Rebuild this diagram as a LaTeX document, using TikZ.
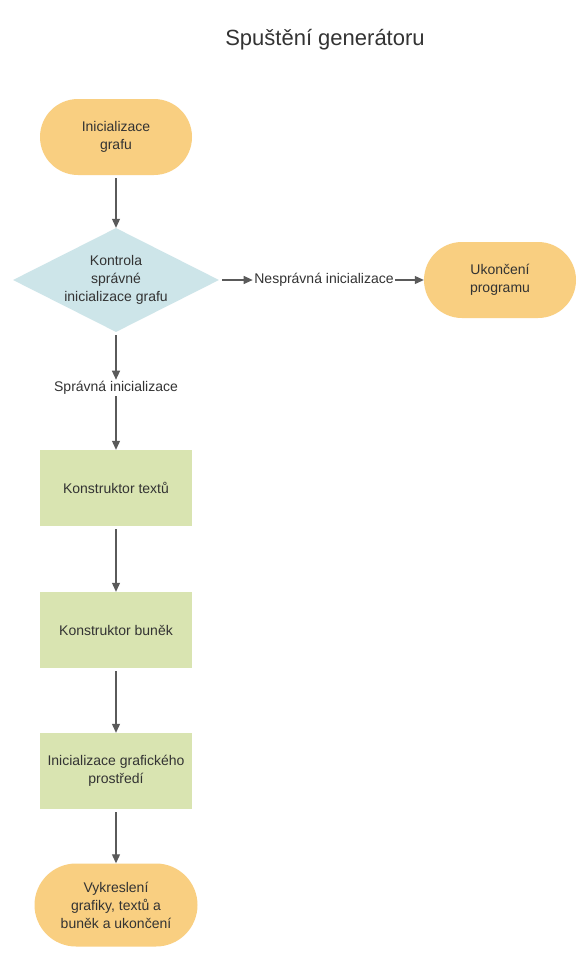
\documentclass[tikz,border=0pt]{standalone}
\usepackage{fontspec}
\setmainfont{Liberation Sans}
\usetikzlibrary{arrows.meta,shapes.geometric}
\definecolor{orangefill}{HTML}{F9CF81}
\definecolor{bluefill}{HTML}{CDE5E9}
\definecolor{greenfill}{HTML}{D9E4B1}
\definecolor{txt}{HTML}{333333}
\definecolor{arr}{HTML}{5A5A5A}
\tikzset{
  base/.style={font=\fontsize{14}{18}\selectfont, text=txt, align=center},
  term/.style={base, fill=orangefill, rounded corners=38pt, minimum width=152pt, minimum height=76pt, inner sep=0pt},
  procbox/.style={base, fill=greenfill, minimum width=152pt, minimum height=76pt, inner sep=0pt},
  decision/.style={shape=diamond, fill=bluefill, minimum width=206pt, minimum height=104pt, inner sep=0pt},
  lbl/.style={base, fill=white, inner sep=1.5pt},
  conn/.style={draw=arr, line width=1.1pt, -{Triangle[length=9pt,width=8pt]}, shorten <=3pt},
}
\begin{document}
\begin{tikzpicture}[x=1pt,y=-1pt]
\useasboundingbox[fill=white] (0,0) rectangle (587,958);
\node[base, font=\fontsize{22}{26}\selectfont] (title) at (325,40) {Spuštění generátoru};
\node[term] (start) at (116,137) {Inicializace\\grafu};
\node[decision] (chk) at (116,280) {};
\node[base] (chktxt) at (116,280) {Kontrola\\správné\\inicializace grafu};
\node[term] (stop) at (500,280) {Ukončení\\programu};
\node[lbl] (nok) at (324,280) {Nesprávná inicializace};
\node[lbl] (ok) at (116,388) {Správná inicializace};
\node[procbox] (texts) at (116,488) {Konstruktor textů};
\node[procbox] (cells) at (116,630) {Konstruktor buněk};
\node[procbox] (gfx) at (116,771) {Inicializace grafického\\prostředí};
\node[term, rounded corners=41.5pt, minimum width=163pt, minimum height=83pt] (fin) at (116,905) {Vykreslení\\grafiky, textů a\\buněk a ukončení};
\draw[conn] (start) -- (chk);
\draw[conn] (chk.east) -- (nok.west);
\draw[conn, shorten <=0pt] (nok.east) -- (stop.west);
\draw[conn] (chk.south) -- (ok.north);
\draw[conn, shorten <=0pt] (ok.south) -- (texts.north);
\draw[conn] (texts) -- (cells);
\draw[conn] (cells) -- (gfx);
\draw[conn] (gfx) -- (fin);
\end{tikzpicture}
\end{document}
